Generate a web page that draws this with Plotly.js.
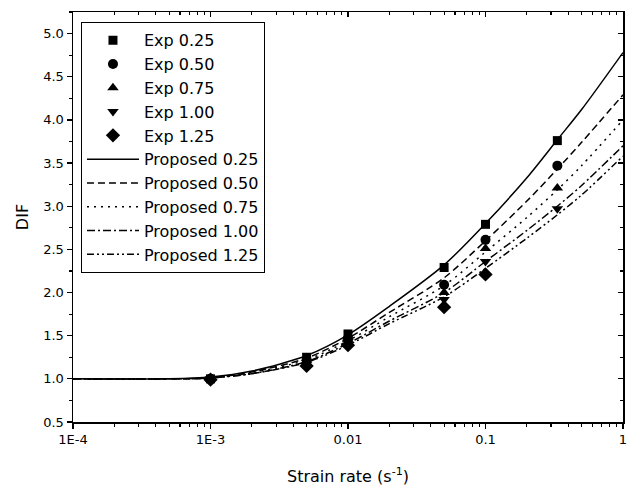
<!DOCTYPE html>
<html>
<head>
<meta charset="utf-8">
<script src="https://cdn.plot.ly/plotly-3.0.1.min.js"></script>
<style>html,body{margin:0;padding:0;background:#fff;}#chart{width:629px;height:488px;}</style>
</head>
<body>
<div id="chart"></div>
<script>
// Experimental data
const expRates = [0.001, 0.005, 0.01, 0.05, 0.1, 0.333];
const exp025 = [1.00, 1.25, 1.52, 2.29, 2.79, 3.76];
const exp050 = [1.00, 1.22, 1.47, 2.09, 2.61, 3.47];
const exp075 = [1.00, 1.21, 1.45, 2.00, 2.51, 3.21];
const exp100 = [1.00, 1.19, 1.43, 1.92, 2.36, 2.97];
const exp125 = [0.99, 1.15, 1.39, 1.83, 2.21];

// Proposed model curves
const modelRates = [0.0001, 0.0005, 0.001, 0.002, 0.005, 0.01, 0.02, 0.05, 0.1, 0.2, 0.333, 0.5, 1];
const prop025 = [1.00, 1.00, 1.02, 1.09, 1.27, 1.51, 1.84, 2.32, 2.80, 3.33, 3.77, 4.12, 4.78];
const prop050 = [1.00, 1.00, 1.01, 1.08, 1.24, 1.47, 1.77, 2.17, 2.60, 3.06, 3.43, 3.74, 4.29];
const prop075 = [1.00, 1.00, 1.01, 1.07, 1.22, 1.44, 1.72, 2.08, 2.47, 2.87, 3.19, 3.47, 4.00];
const prop100 = [1.00, 1.00, 1.01, 1.06, 1.20, 1.41, 1.67, 2.00, 2.36, 2.72, 3.00, 3.24, 3.70];
const prop125 = [1.00, 1.00, 1.01, 1.06, 1.19, 1.39, 1.64, 1.95, 2.28, 2.63, 2.90, 3.13, 3.58];

const expNames = ['Exp 0.25', 'Exp 0.50', 'Exp 0.75', 'Exp 1.00', 'Exp 1.25'];
const propNames = ['Proposed 0.25', 'Proposed 0.50', 'Proposed 0.75', 'Proposed 1.00', 'Proposed 1.25'];
const xTickVals = [0.0001, 0.001, 0.01, 0.1, 1];
const xTickText = ['1E-4', '1E-3', '0.01', '0.1', '1'];

// log-axis minor tick positions (2..9 within each decade)
const xMinorVals = [];
for (let d = -4; d < 0; d++) {
  for (let k = 2; k <= 9; k++) xMinorVals.push(k * Math.pow(10, d));
}

const expSeries = [exp025, exp050, exp075, exp100, exp125];
const symbols = ['square', 'circle', 'triangle-up', 'triangle-down', 'diamond'];
const symSizes = [9, 10, 10, 10, 11];
const propSeries = [prop025, prop050, prop075, prop100, prop125];
const dashes = ['solid', '7px,4px', '2px,5px', '8px,3px,2px,3px', '7px,3px,2px,3px,2px,3px'];

const traces = [];
expSeries.forEach((ys, i) => {
  traces.push({
    x: expRates.slice(0, ys.length), y: ys, name: expNames[i], type: 'scatter', mode: 'markers',
    marker: {symbol: symbols[i], size: symSizes[i], color: '#000'}
  });
});
propSeries.forEach((ys, i) => {
  traces.push({
    x: modelRates, y: ys, name: propNames[i], type: 'scatter', mode: 'lines',
    line: {color: '#000', width: 1.5, dash: dashes[i], shape: 'spline', smoothing: 0.8}
  });
});
// invisible helper trace so the mirrored (top/right) axes get drawn
traces.push({x: [0.001], y: [1], xaxis: 'x2', yaxis: 'y2', showlegend: false, hoverinfo: 'skip',
  type: 'scatter', mode: 'markers', marker: {opacity: 0, size: 1}});

const fam = 'DejaVu Sans, Arial, sans-serif';
const layout = {
  width: 629, height: 488,
  margin: {l: 73, r: 6, t: 12, b: 66},
  paper_bgcolor: '#fff', plot_bgcolor: '#fff',
  font: {family: fam, color: '#000', size: 13},
  showlegend: true,
  legend: {
    x: 0.0145, y: 0.975, xanchor: 'left', yanchor: 'top',
    bordercolor: '#000', borderwidth: 1, bgcolor: 'rgba(255,255,255,0)',
    font: {family: fam, size: 16, color: '#000'},
    itemwidth: 52, tracegroupgap: 0
  },
  xaxis: {
    type: 'log', range: [-4, 0], showgrid: false, zeroline: false,
    showline: true, linecolor: '#000', linewidth: 1.5, mirror: true,
    ticks: 'outside', ticklen: 5, tickwidth: 1.3, tickcolor: '#000',
    tickmode: 'array', tickvals: xTickVals, ticktext: xTickText,
    tickfont: {family: fam, size: 13, color: '#000'},
    minor: {ticks: 'outside', ticklen: 3, tickwidth: 1.2, tickcolor: '#000', tickmode: 'array', tickvals: xMinorVals, showgrid: false},
    title: {text: 'Strain rate (s<sup>-1</sup>)', font: {family: fam, size: 16, color: '#000'}, standoff: 24}
  },
  yaxis: {
    range: [0.5, 5.25], showgrid: false, zeroline: false,
    showline: true, linecolor: '#000', linewidth: 1.5, mirror: true,
    ticks: 'outside', ticklen: 5, tickwidth: 1.3, tickcolor: '#000',
    dtick: 0.5, tick0: 0.5, tickformat: '.1f',
    tickfont: {family: fam, size: 13, color: '#000'},
    minor: {ticks: 'outside', ticklen: 3, tickwidth: 1.2, tickcolor: '#000', dtick: 0.25, showgrid: false},
    title: {text: 'DIF', font: {family: fam, size: 16, color: '#000'}, standoff: 10}
  },
  xaxis2: {
    type: 'log', range: [-4, 0], overlaying: 'x', side: 'top', anchor: 'y',
    showgrid: false, zeroline: false, showline: false, showticklabels: false,
    ticks: 'inside', ticklen: 5, tickwidth: 1.3, tickcolor: '#000',
    tickmode: 'array', tickvals: xTickVals,
    minor: {ticks: 'inside', ticklen: 3, tickwidth: 1.2, tickcolor: '#000', tickmode: 'array', tickvals: xMinorVals, showgrid: false}
  },
  yaxis2: {
    range: [0.5, 5.25], overlaying: 'y', side: 'right', anchor: 'x',
    showgrid: false, zeroline: false, showline: false, showticklabels: false,
    ticks: 'inside', ticklen: 5, tickwidth: 1.3, tickcolor: '#000',
    dtick: 0.5, tick0: 0.5,
    minor: {ticks: 'inside', ticklen: 3, tickwidth: 1.2, tickcolor: '#000', dtick: 0.25, showgrid: false}
  }
};
Plotly.newPlot('chart', traces, layout, {staticPlot: true, displayModeBar: false});
</script>
</body>
</html>
